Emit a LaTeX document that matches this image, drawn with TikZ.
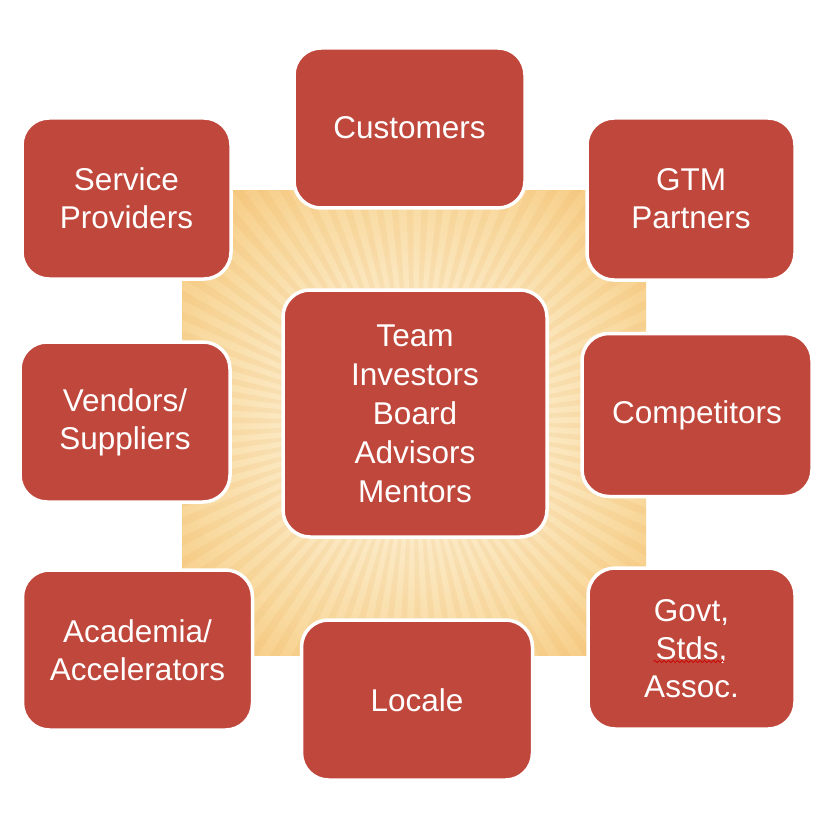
\documentclass[tikz,border=0pt]{standalone}
\usepackage{fontspec}
\setmainfont{Liberation Sans}
\usetikzlibrary{decorations.pathmorphing}
\definecolor{boxred}{HTML}{C0473B}
\definecolor{sunA}{HTML}{FDF1D8}
\definecolor{sunB}{HTML}{F9DBA2}
\definecolor{sunC}{HTML}{F3B65C}
\definecolor{rayc}{HTML}{E8A040}
\pgfdeclareradialshading{sunshade}{\pgfpoint{0bp}{0bp}}{color(0bp)=(sunA); color(5bp)=(sunA); color(17bp)=(sunB); color(30bp)=(sunC); color(50bp)=(sunC)}
\tikzset{
  box/.style={draw=white, line width=3.5pt, fill=boxred, rounded corners=27pt,
    text=white, align=center, inner sep=0pt,
    font=\fontsize{31.5}{38}\selectfont},
  spell/.style={draw=red!80!black, line width=0.7pt,
    decorate, decoration={snake, segment length=4.5pt, amplitude=1.1pt}}
}
\begin{document}
\begin{tikzpicture}[x=1pt,y=-1pt]
\useasboundingbox (0,0) rectangle (834,818);
% sunburst background
\begin{scope}
  \clip (182,191) rectangle (646,655);
  \shade[shading=sunshade] (84,93) rectangle (744,753);
  \foreach \i in {0,...,89} {
    \fill[rayc, opacity=0.11] (414,423) -- ++({\i*4}:520) arc[start angle={\i*4}, end angle={\i*4+1.8}, radius=520] -- cycle;
  }
\end{scope}
% boxes
\node[box, minimum width=231pt, minimum height=160pt] (cust) at (409.5,128) {Customers};
\node[box, minimum width=209pt, minimum height=161pt] (serv) at (126.5,198.5) {Service\\Providers};
\node[box, minimum width=208pt, minimum height=162pt] (gtm) at (691,199) {GTM\\Partners};
\node[box, minimum width=210pt, minimum height=160pt] (vend) at (125,422) {Vendors/\\Suppliers};
\node[box, minimum width=264pt, minimum height=247pt, font=\fontsize{31.5}{39}\selectfont] (team) at (415,413.5) {Team\\Investors\\Board\\Advisors\\Mentors};
\node[box, minimum width=230pt, minimum height=163pt] (comp) at (697,415) {Competitors};
\node[box, minimum width=230pt, minimum height=160pt] (acad) at (137.5,650) {Academia/\\Accelerators};
\node[box, minimum width=231pt, minimum height=160pt] (loc) at (417,700) {Locale};
\node[box, minimum width=207pt, minimum height=161pt] (govt) at (691.5,648.5) {Govt,\\Stds,\\Assoc.};
\draw[spell] ([shift={(-38,13)}]govt.center) -- ([shift={(33,13)}]govt.center);
\end{tikzpicture}
\end{document}
